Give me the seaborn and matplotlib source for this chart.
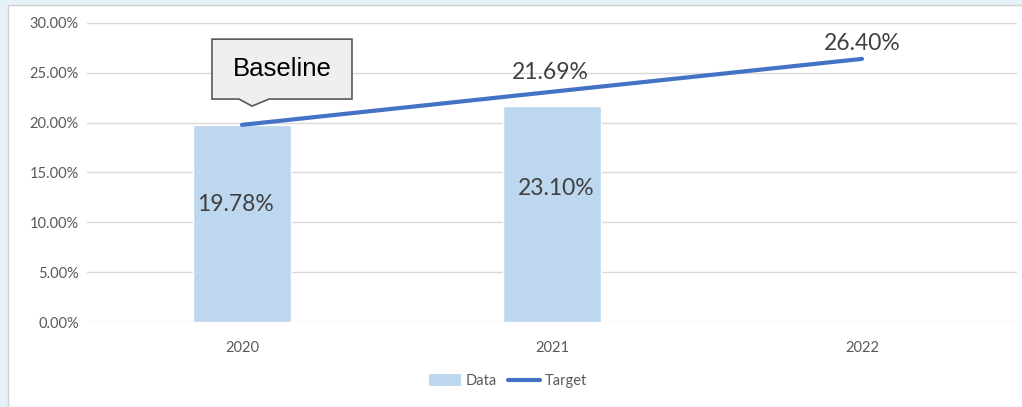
import numpy as np
import pandas as pd
import matplotlib
matplotlib.use("Agg")
import matplotlib.pyplot as plt
from matplotlib.patches import Rectangle, Polygon, Patch
from matplotlib.lines import Line2D
from matplotlib.ticker import PercentFormatter
import seaborn as sns

# Chart values
years = ["2020", "2021", "2022"]
data_values = [0.1978, 0.2169, np.nan]
target_values = [0.1978, 0.2310, 0.2640]
bar_labels = ["19.78%", "23.10%", ""]
line_labels = ["", "21.69%", "26.40%"]

df = pd.DataFrame({"Year": years, "Data": data_values, "Target": target_values})

sns.set_theme(style="white")
plt.rcParams["font.family"] = ["Lato", "DejaVu Sans"]

fig = plt.figure(figsize=(10.22, 4.07), dpi=100)
fig.patch.set_facecolor("#e4f1f7")

# white chart panel behind the axes
panel = Rectangle((8 / 1022, 0), 1.0, 1 - 5 / 407, transform=fig.transFigure,
                  facecolor="white", edgecolor="#d0d0d0", linewidth=1.0, zorder=-1)
fig.add_artist(panel)

ax = fig.add_axes([87 / 1022, 1 - 322 / 407, 930 / 1022, 299 / 407])
ax.set_facecolor("none")
ax.set_zorder(1)

sns.barplot(data=df, x="Year", y="Data", order=years, color="#bdd7ee",
            width=0.313, saturation=1, ax=ax, zorder=2)
sns.lineplot(x=np.arange(len(years)), y=df["Target"].values, color="#4472c4",
             linewidth=3, ax=ax, zorder=3)

ax.set_xlim(-0.5, 2.5)
ax.set_ylim(0, 0.30)
ax.set_yticks(np.arange(0, 0.301, 0.05))
ax.yaxis.set_major_formatter(PercentFormatter(1.0, decimals=2))
ax.grid(axis="y", color="#d9d9d9", linewidth=1.0, zorder=0)
ax.set_axisbelow(True)
for s in ax.spines.values():
    s.set_visible(False)
ax.tick_params(axis="both", length=0, labelsize=10.5, labelcolor="#595959")
ax.tick_params(axis="x", pad=14)
ax.tick_params(axis="y", pad=6)
ax.set_xlabel("")
ax.set_ylabel("")

# data labels
lab_kw = dict(ha="center", va="center", fontsize=16.5, color="#404040")
ax.text(-0.02, 0.1174, bar_labels[0], **lab_kw)
ax.text(1.013, 0.1344, bar_labels[1], **lab_kw)
ax.text(0.994, 0.2508, line_labels[1], **lab_kw)
ax.text(2.0, 0.279, line_labels[2], **lab_kw)

# Baseline callout
callout = Polygon([(-0.0968, 0.2838), (0.3548, 0.2838), (0.3548, 0.2237), (0.0871, 0.2237),
                   (0.0323, 0.2166), (-0.0097, 0.2237), (-0.0968, 0.2237)],
                  closed=True, facecolor="#efefef", edgecolor="#595959", linewidth=1.2,
                  zorder=5, clip_on=False)
ax.add_patch(callout)
ax.text(0.129, 0.2535, "Baseline", ha="center", va="center", fontsize=18.5,
        family=["Liberation Sans", "DejaVu Sans"], color="black", zorder=6)

handles = [Patch(facecolor="#bdd7ee", edgecolor="none"),
           Line2D([0], [0], color="#4472c4", linewidth=3)]
fig.legend(handles, ["Data", "Target"], loc="center", bbox_to_anchor=(508 / 1022, 1 - 381 / 407),
           ncol=2, frameon=False, fontsize=10.5, labelcolor="#595959",
           handlelength=2.2, handleheight=0.9, handletextpad=0.3, columnspacing=0.8)

fig.savefig("out.png", dpi=100)
